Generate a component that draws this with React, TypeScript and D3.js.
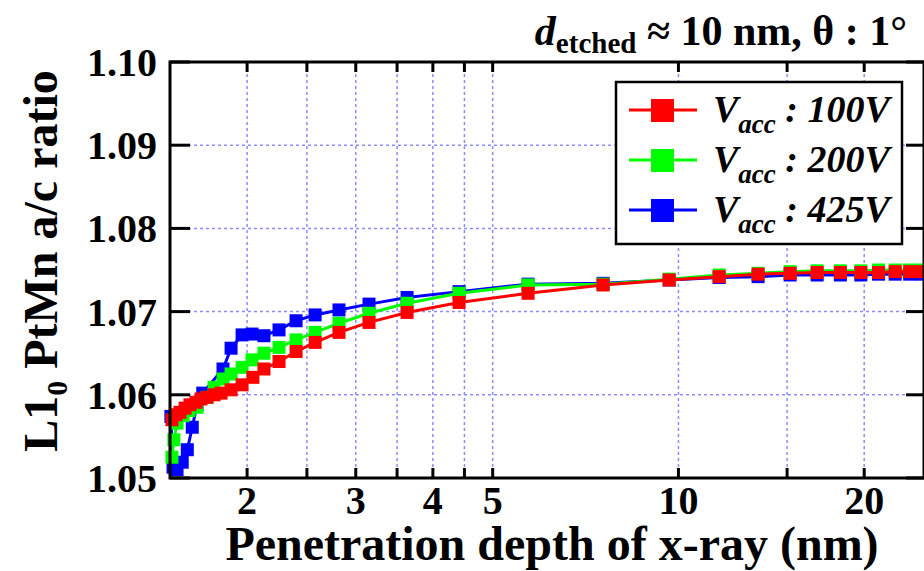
import React from "react";
import * as d3 from "d3";

const xTicksMajor = [2, 3, 4, 5, 10, 20];
const xTicksAll = [2, 2.5, 3, 3.5, 4, 4.5, 5, 10, 15, 20];
const yTicks = [1.05, 1.06, 1.07, 1.08, 1.09, 1.1];
const yTickLabels = ["1.05", "1.06", "1.07", "1.08", "1.09", "1.10"];

const xRed = [1.511, 1.534, 1.557, 1.587, 1.616, 1.653, 1.684, 1.722, 1.768, 1.815, 1.884, 1.963, 2.044, 2.13, 2.253, 2.401, 2.578, 2.818, 3.152, 3.633, 4.411, 5.706, 7.55, 9.66, 11.64, 13.46, 15.17, 16.78, 18.3, 19.75, 21.1, 22.45, 23.7, 24.8];
const yRed = [1.057, 1.0576, 1.0579, 1.0584, 1.0588, 1.0591, 1.0595, 1.0597, 1.06, 1.0602, 1.0606, 1.0612, 1.0621, 1.0631, 1.064, 1.0652, 1.0663, 1.0675, 1.0687, 1.0699, 1.0711, 1.0722, 1.0732, 1.0738, 1.0742, 1.0745, 1.0746, 1.0747, 1.0747, 1.0747, 1.0747, 1.0748, 1.0748, 1.0748];

const xGreen = [1.511, 1.522, 1.54, 1.575, 1.61, 1.659, 1.722, 1.768, 1.828, 1.884, 1.963, 2.037, 2.13, 2.253, 2.401, 2.578, 2.818, 3.152, 3.633, 4.411, 5.706, 7.55, 9.66, 11.64, 13.46, 15.17, 16.78, 18.3, 19.75, 21.1, 22.45, 23.7, 24.8];
const yGreen = [1.0525, 1.0546, 1.0566, 1.0575, 1.0581, 1.0585, 1.0597, 1.0609, 1.0619, 1.0625, 1.0633, 1.0642, 1.065, 1.0657, 1.0666, 1.0675, 1.0686, 1.0698, 1.071, 1.0722, 1.0732, 1.0733, 1.0739, 1.0744, 1.0746, 1.0748, 1.0749, 1.0749, 1.0749, 1.075, 1.075, 1.075, 1.075];

const xBlue = [1.505, 1.517, 1.54, 1.57, 1.6, 1.63, 1.659, 1.695, 1.828, 1.884, 1.963, 2.037, 2.13, 2.253, 2.401, 2.578, 2.818, 3.152, 3.633, 4.411, 5.706, 7.55, 9.66, 11.64, 13.46, 15.17, 16.78, 18.3, 19.75, 21.1, 22.45, 23.7, 24.8];
const yBlue = [1.0574, 1.0513, 1.051, 1.0519, 1.0534, 1.0561, 1.0588, 1.0602, 1.0631, 1.0656, 1.0672, 1.0673, 1.0671, 1.0678, 1.0689, 1.0696, 1.0702, 1.0709, 1.0717, 1.0724, 1.0733, 1.0734, 1.0738, 1.0741, 1.0742, 1.0744, 1.0744, 1.0744, 1.0744, 1.0745, 1.0745, 1.0745, 1.0745];

const seriesNames = ["100V", "200V", "425V"];
const seriesColors = ["#ff0000", "#00ff00", "#0000ff"];

const W = 924;
const H = 571;
const L = 170;
const R = 924;
const T = 62;
const B = 478;

const FONT = "'Liberation Serif', 'Times New Roman', serif";

export default function App() {
  const x = d3.scaleLog().domain([1.5, 25]).range([L, R]);
  const y = d3.scaleLinear().domain([1.05, 1.1]).range([B, T]);

  const series = [
    { xs: xBlue, ys: yBlue, color: seriesColors[2] },
    { xs: xGreen, ys: yGreen, color: seriesColors[1] },
    { xs: xRed, ys: yRed, color: seriesColors[0] },
  ];

  const line = d3
    .line<[number, number]>()
    .x((d) => x(d[0]))
    .y((d) => y(d[1]));

  const ms = 13;
  const gridColor = "#8c8cff";

  return (
    <svg
      width={W}
      height={H}
      style={{ position: "absolute", left: 0, top: 0, background: "#fff" }}
      fontFamily={FONT}
      fontWeight="bold"
    >
      <rect x={0} y={0} width={W} height={H} fill="#fff" />
      {xTicksAll.map((t) => (
        <line key={"gx" + t} x1={x(t)} x2={x(t)} y1={T} y2={B} stroke={gridColor} strokeWidth={1.5} strokeDasharray="3,3" />
      ))}
      {yTicks.slice(1, -1).map((t) => (
        <line key={"gy" + t} x1={L} x2={R} y1={y(t)} y2={y(t)} stroke={gridColor} strokeWidth={1.5} strokeDasharray="3,3" />
      ))}
      {series.map((s, i) => {
        const pts: [number, number][] = s.xs.map((v, j) => [v, s.ys[j]]);
        return (
          <g key={"s" + i}>
            <path d={line(pts) || ""} fill="none" stroke={s.color} strokeWidth={3} />
            {pts.map((p, j) => (
              <rect key={j} x={x(p[0]) - ms / 2} y={y(p[1]) - ms / 2} width={ms} height={ms} fill={s.color} />
            ))}
          </g>
        );
      })}
      <rect x={L} y={T} width={R - L} height={B - T} fill="none" stroke="#000" strokeWidth={3} />
      {yTicks.map((t, i) => (
        <g key={"yt" + t}>
          <line x1={L} x2={L + 20} y1={y(t)} y2={y(t)} stroke="#000" strokeWidth={3} />
          <line x1={R - 18} x2={R} y1={y(t)} y2={y(t)} stroke="#000" strokeWidth={3} />
          <text x={157} y={y(t) + 14} textAnchor="end" fontSize={40}>
            {yTickLabels[i]}
          </text>
        </g>
      ))}
      {xTicksAll.map((t) => (
        <g key={"xt" + t}>
          <line x1={x(t)} x2={x(t)} y1={B} y2={B - 10} stroke="#000" strokeWidth={3} />
          <line x1={x(t)} x2={x(t)} y1={T} y2={T + 10} stroke="#000" strokeWidth={3} />
        </g>
      ))}
      {xTicksMajor.map((t) => (
        <text key={"xl" + t} x={x(t)} y={514} textAnchor="middle" fontSize={40}>
          {t}
        </text>
      ))}
      <text x={552} y={560} textAnchor="middle" fontSize={48}>
        Penetration depth of x-ray (nm)
      </text>
      <text transform="translate(57,261) rotate(-90)" textAnchor="middle" fontSize={48}>
        L1
        <tspan fontSize={30} dy={10}>0</tspan>
        <tspan dy={-10}> PtMn a/c ratio</tspan>
      </text>
      <text x={907} y={45} textAnchor="end" fontSize={42}>
        <tspan fontStyle="italic">d</tspan>
        <tspan fontSize={29} dy={8}>etched</tspan>
        <tspan dy={-8}> ≈ 10 nm, θ : 1°</tspan>
      </text>
      <rect x={616} y={82} width={286} height={162} fill="#fff" stroke="#000" strokeWidth={2.5} />
      {seriesNames.map((n, i) => {
        const cy = 110 + i * 50;
        return (
          <g key={"lg" + n}>
            <line x1={629} x2={697} y1={cy} y2={cy} stroke={seriesColors[i]} strokeWidth={3} />
            <rect x={651} y={cy - 11} width={23} height={23} fill={seriesColors[i]} />
            <text x={713} y={cy + 12} fontSize={38} fontStyle="italic">
              V
              <tspan fontSize={27} dy={11}>acc</tspan>
              <tspan dy={-11}> : {n}</tspan>
            </text>
          </g>
        );
      })}
    </svg>
  );
}
